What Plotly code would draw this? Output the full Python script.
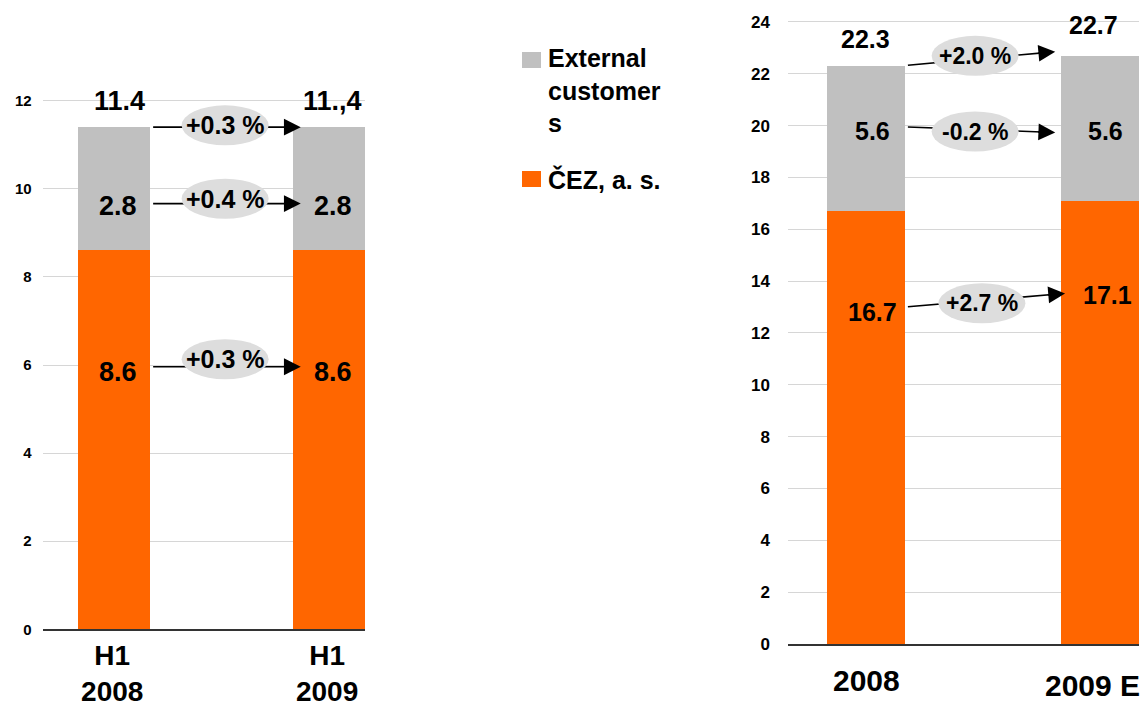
import plotly.graph_objects as go

# ---------------- data ----------------
left_categories = ["H1<br>2008", "H1<br>2009"]
left_cez = [8.6, 8.6]
left_external = [2.8, 2.8]
left_total_text = ["11.4", "11.,4"]
left_changes = ["+0.3 %", "+0.4 %", "+0.3 %"]  # total, external, ČEZ

right_categories = ["2008", "2009 E"]
right_cez = [16.7, 17.1]
right_external = [5.6, 5.6]
right_total_text = ["22.3", "22.7"]
right_changes = ["+2.0 %", "-0.2 %", "+2.7 %"]  # total, external, ČEZ

legend_names = ["External<br>customer<br>s", "ČEZ, a. s."]

# ---------------- style ----------------
ORANGE = "#FF6600"
GREY = "#C0C0C0"
ELLIPSE = "#DDDDDD"
FONT = "Liberation Sans, Arial, sans-serif"
OFF = 8  # page offset of the figure (body margin)
W, H = 1140, 701


def px(x):
    return (x - OFF) / W


def py(y):
    return 1 - (y - OFF) / H


fig = go.Figure()
xpos = [0, 1]
BAR_W = 1 / 3

for xa, ya, cez, ext in [("x", "y", left_cez, left_external),
                         ("x2", "y2", right_cez, right_external)]:
    fig.add_trace(go.Bar(x=xpos, y=cez, width=BAR_W, marker_color=ORANGE,
                         marker_line_width=0, xaxis=xa, yaxis=ya,
                         name="ČEZ, a. s.", showlegend=False))
    fig.add_trace(go.Bar(x=xpos, y=ext, width=BAR_W, marker_color=GREY,
                         marker_line_width=0, xaxis=xa, yaxis=ya,
                         name="External customers", showlegend=False))

axis_common = dict(showgrid=False, zeroline=False, showline=True,
                   linecolor="#333333", linewidth=1.5, ticks="",
                   range=[-0.333, 1.167], tickvals=xpos, fixedrange=True,
                   automargin=False)
yaxis_common = dict(showgrid=True, gridcolor="#D6D6D6", gridwidth=1.2,
                    zeroline=False, showline=False, ticks="", dtick=2,
                    tick0=0, fixedrange=True, automargin=False)

fig.update_layout(
    width=W, height=H,
    margin=dict(l=0, r=0, t=0, b=0, autoexpand=False),
    paper_bgcolor="white", plot_bgcolor="white",
    font=dict(family=FONT, color="black"),
    barmode="stack",
    showlegend=False,
    xaxis=dict(**axis_common, domain=[px(42.7), px(365)], anchor="y",
               ticktext=left_categories, ticklabelshift=-2,
               tickfont=dict(size=28, weight="bold", family=FONT)),
    yaxis=dict(**yaxis_common, domain=[py(629.3), py(629.3 - 12.2 * 44.05)],
               range=[0, 12.2], anchor="x", ticklabelstandoff=10,
               tickfont=dict(size=15, weight="bold", family=FONT)),
    xaxis2=dict(**axis_common, domain=[px(788), px(1139.3)], anchor="y2",
                ticktext=right_categories, showticklabels=False),
    yaxis2=dict(**yaxis_common, domain=[py(644), py(644 - 24.3 * 25.92)],
                range=[0, 24.3], anchor="x2", ticklabelstandoff=17,
                tickfont=dict(size=17, weight="bold", family=FONT)),
)

shapes = []
annotations = []


def label(xref, yref, x, y, text, size, xshift=0):
    annotations.append(dict(xref=xref, yref=yref, x=x, y=y, text=text,
                            showarrow=False, xshift=xshift,
                            xanchor="center", yanchor="middle",
                            font=dict(size=size, weight="bold", family=FONT,
                                      color="black")))


# right chart category labels (placed as labels so the last fits the edge)
for i, (cat, sh, yc) in enumerate(zip(right_categories, [1, -8], [680, 685])):
    label("x2", "paper", xpos[i], py(yc), cat, 30, sh)

# ---- value labels (placement as fractions within segments) ----
for i in range(2):
    tot = left_cez[i] + left_external[i]
    label("x", "y", xpos[i], left_cez[i] * 0.68, f"{left_cez[i]:.1f}", 27, 4)
    label("x", "y", xpos[i], left_cez[i] + left_external[i] * 0.36,
          f"{left_external[i]:.1f}", 27, 4)
    label("x", "y", xpos[i], tot + 0.6, left_total_text[i], 27, 5 if i == 0 else 3)

r_cez_frac = [0.767, 0.787]
r_ext_frac = [0.55, 0.48]
r_tot_off = [1.04, 1.2]
for i in range(2):
    tot = right_cez[i] + right_external[i]
    label("x2", "y2", xpos[i], right_cez[i] * r_cez_frac[i],
          f"{right_cez[i]:.1f}", 25, 7)
    label("x2", "y2", xpos[i], right_cez[i] + right_external[i] * r_ext_frac[i],
          f"{right_external[i]:.1f}", 25, 7 if i == 0 else 5)
    label("x2", "y2", xpos[i], tot + r_tot_off[i], right_total_text[i], 25,
          0 if i == 0 else -7)


# ---- change arrows with ellipse badges ----
def change_arrow(xref, yref, x0, y0, x1, y1, ex, ey, text, size):
    shapes.append(dict(type="line", xref=xref, yref=yref, x0=x0, y0=y0,
                       x1=x1 - 0.03, y1=y1 - (y1 - y0) * 0.03 / (x1 - x0),
                       line=dict(color="black", width=1.6), layer="above"))
    shapes.append(dict(type="circle", xref=xref, yref=yref,
                       xsizemode="pixel", ysizemode="pixel",
                       xanchor=ex, yanchor=ey, x0=-43.5, x1=43.5,
                       y0=-20, y1=20, fillcolor=ELLIPSE,
                       line=dict(width=0), layer="above"))
    d = 0.08
    annotations.append(dict(xref=xref, yref=yref, axref=xref, ayref=yref,
                            x=x1, y=y1, ax=x1 - d,
                            ay=y1 - (y1 - y0) * d / (x1 - x0),
                            text="", showarrow=True, arrowhead=2,
                            arrowsize=2.1, arrowwidth=1.6, arrowcolor="black",
                            standoff=0))
    label(xref, yref, ex, ey, text, size)


# left chart: total, external, ČEZ
lt = [left_cez[i] + left_external[i] for i in range(2)]
change_arrow("x", "y", 0.181, lt[0], 0.868, lt[1], 0.516, lt[0] + 0.04,
             left_changes[0], 25)
change_arrow("x", "y", 0.181, left_cez[0] + 0.38 * left_external[0],
             0.868, left_cez[1] + 0.38 * left_external[1],
             0.516, left_cez[0] + 0.42 * left_external[0], left_changes[1], 25)
change_arrow("x", "y", 0.181, left_cez[0] * 0.693, 0.868, left_cez[1] * 0.693,
             0.516, left_cez[0] * 0.713, left_changes[2], 25)

# right chart
rt = [right_cez[i] + right_external[i] for i in range(2)]
change_arrow("x2", "y2", 0.179, rt[0] + 0.03, 0.808, rt[1] + 0.15,
             0.466, rt[0] + 0.39, right_changes[0], 23)
change_arrow("x2", "y2", 0.179, right_cez[0] + 0.58 * right_external[0],
             0.808, right_cez[1] + 0.47 * right_external[1],
             0.466, right_cez[0] + 0.548 * right_external[0],
             right_changes[1], 23)
change_arrow("x2", "y2", 0.179, right_cez[0] * 0.779, 0.85,
             right_cez[1] * 0.791, 0.495, right_cez[0] * 0.787,
             right_changes[2], 23)

# ---- manual legend ----
legend_colors = [GREY, ORANGE]
legend_rows = [(52, 68, 58 - 16), (171, 187, 180 - 17)]
for name, col, (t, b, top) in zip(legend_names, legend_colors, legend_rows):
    shapes.append(dict(type="rect", xref="paper", yref="paper",
                       x0=px(522), x1=px(541), y0=py(b), y1=py(t),
                       fillcolor=col, line=dict(width=0)))
    annotations.append(dict(xref="paper", yref="paper", x=px(546),
                            y=py(top), xanchor="left", yanchor="top",
                            align="left", text=name, showarrow=False,
                            font=dict(size=25, weight="bold", family=FONT,
                                      color="black")))

fig.update_layout(shapes=shapes, annotations=annotations)
fig.write_html("out.html")
